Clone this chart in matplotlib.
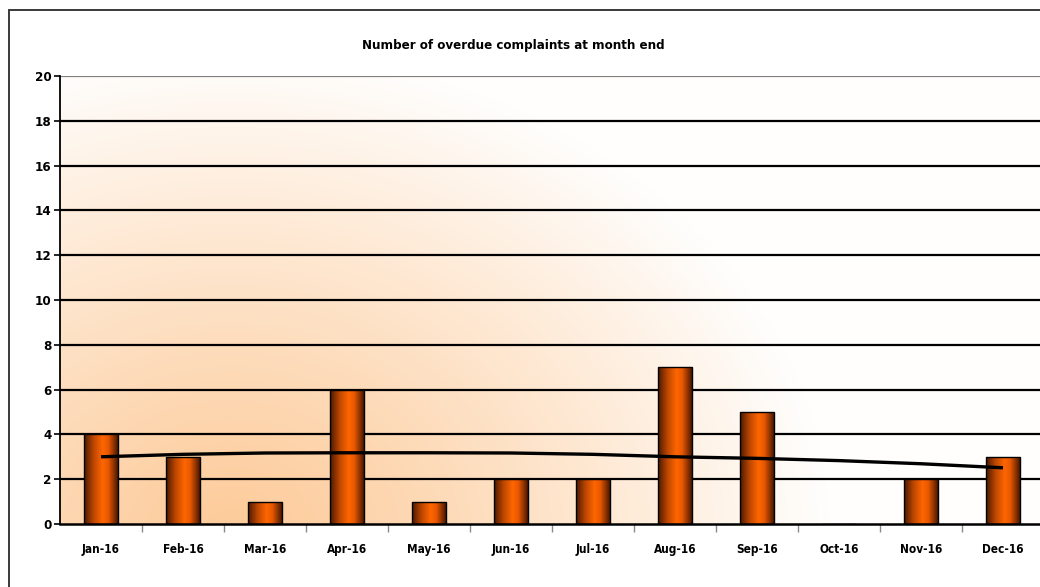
import numpy as np
import matplotlib
matplotlib.use("Agg")
import matplotlib.pyplot as plt
from matplotlib.patches import Rectangle
from matplotlib.colors import LinearSegmentedColormap

months = ["Jan-16", "Feb-16", "Mar-16", "Apr-16", "May-16", "Jun-16",
          "Jul-16", "Aug-16", "Sep-16", "Oct-16", "Nov-16", "Dec-16"]
overdue = [4, 3, 1, 6, 1, 2, 2, 7, 5, 0, 2, 3]
trend = [3.0, 3.11, 3.17, 3.18, 3.18, 3.17, 3.11, 3.0, 2.93, 2.83, 2.69, 2.51]
y_ticks = [0, 2, 4, 6, 8, 10, 12, 14, 16, 18, 20]
title = "Number of overdue complaints at month end"

FONT = ["DejaVu Sans"]
plt.rcParams["font.family"] = FONT
TXT = dict(fontweight="bold", fontstretch="condensed", family=FONT)

W, H, DPI = 1040, 587, 100
fig = plt.figure(figsize=(W / DPI, H / DPI), dpi=DPI)
fig.patch.set_facecolor("white")

# chart frame (runs off the right and bottom edges)
frame = Rectangle((8.5 / W, -0.05), 1.1, 1 - 9.5 / H + 0.05,
                  transform=fig.transFigure, fill=False,
                  edgecolor="#3a3a3a", linewidth=1.4, zorder=0)
fig.patches.append(frame)

left, right, top, bottom = 60, 1044, 76, 524
ax = fig.add_axes([left / W, 1 - bottom / H, (right - left) / W, (bottom - top) / H])
ax.set_xlim(-0.5, 11.5)
ax.set_ylim(0, 20)

# plot-area background: peach fading to white towards the top right
nx, ny = 400, 200
xs = np.linspace(left, right, nx)
ys = np.linspace(top, bottom, ny)
XX, YY = np.meshgrid(xs, ys)
d = np.sqrt(((XX - 230) / 600.0) ** 2 + ((YY - 540) / 490.0) ** 2)
t = np.clip(d, 0, 1) ** 1.15
peach = np.array([253, 203, 154]) / 255.0
white = np.array([255, 254, 253]) / 255.0
bg = peach[None, None, :] * (1 - t[..., None]) + white[None, None, :] * t[..., None]
ax.imshow(bg, extent=(-0.5, 11.5, 0, 20), origin="upper", aspect="auto",
          zorder=0, interpolation="bilinear")

# horizontal gridlines
for v in y_ticks[1:-1]:
    ax.axhline(v, color="black", linewidth=1.6, zorder=1)
ax.axhline(20, color="#808080", linewidth=1.6, zorder=1)

# bars with a cylindrical orange shading
bar_cmap = LinearSegmentedColormap.from_list(
    "bar", [(0.0, "#4e1a00"), (0.28, "#bd4700"), (0.55, "#ff6600"),
            (0.72, "#e85800"), (1.0, "#4e1a00")])
shade = bar_cmap(np.linspace(0, 1, 64))[None, :, :]
x = np.arange(len(months))
bars = ax.bar(x, overdue, width=0.41, color="none", edgecolor="black",
              linewidth=1.0, zorder=3)
for b in bars:
    if b.get_height() <= 0:
        continue
    x0, w, h = b.get_x(), b.get_width(), b.get_height()
    im = ax.imshow(shade, extent=(x0, x0 + w, 0, h), aspect="auto",
                   zorder=2.5, interpolation="bilinear")
    im.set_clip_path(b)

# trend line
ax.plot(x, trend, color="black", linewidth=2.4, zorder=4,
        solid_capstyle="butt")

# axes styling
for s in ["top", "right"]:
    ax.spines[s].set_visible(False)
ax.spines["left"].set_linewidth(1.3)
ax.spines["bottom"].set_linewidth(1.8)
ax.spines["left"].set_zorder(5)
ax.spines["bottom"].set_zorder(5)

ax.set_yticks(y_ticks)
ax.set_yticklabels([str(v) for v in y_ticks], fontsize=9.5, **TXT)
ax.tick_params(axis="y", length=4, width=1.2, pad=2, color="black")

ax.set_xticks(x)
ax.set_xticklabels(months, fontsize=8.5, **TXT)
ax.tick_params(axis="x", which="major", length=0, pad=14)
ax.set_xticks(np.arange(0.5, 11.5, 1.0), minor=True)
ax.tick_params(axis="x", which="minor", length=6, width=1.0, color="#8a8a8a")

fig.text(513 / W, 1 - 46 / H, title, ha="center", va="center",
         fontsize=9.5, **TXT)

fig.savefig("out.png", dpi=DPI)
